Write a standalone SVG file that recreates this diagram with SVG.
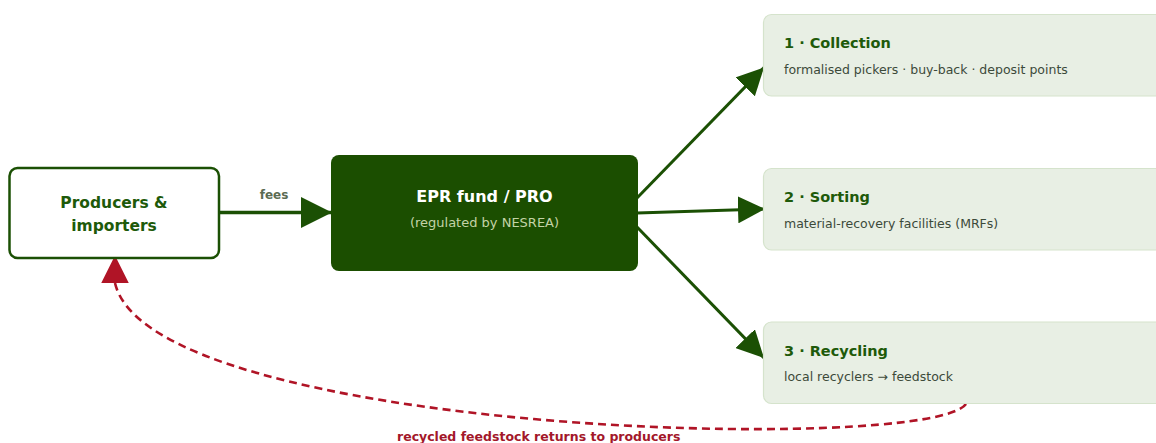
<svg xmlns="http://www.w3.org/2000/svg" width="1156" height="443" viewBox="0 0 1156 443">
  <style>
    .lbl { font-family: "DejaVu Sans", "Liberation Sans", sans-serif; }
    .prod { fill: #ffffff; stroke: #1b5004; stroke-width: 2.5; }
    .prodtxt { font-size: 15.5px; font-weight: bold; fill: #1e5a0a; }
    .fund { fill: #1b4e00; }
    .fundtitle { font-size: 16px; font-weight: bold; fill: #ffffff; }
    .fundsub { font-size: 13px; fill: #c3d3a6; }
    .stage { fill: #e8efe4; stroke: #d5e3cc; stroke-width: 1.2; }
    .stagetitle { font-size: 14.5px; font-weight: bold; fill: #1e5a0a; }
    .stagesub { font-size: 12.5px; fill: #3c4a3a; }
    .flow { fill: none; stroke: #1b5004; }
    .loop { fill: none; stroke: #b01426; stroke-width: 2.6; stroke-dasharray: 8 5; }
    .feeslbl { font-size: 12px; font-weight: bold; fill: #5b6b52; }
    .looplbl { font-size: 12.5px; font-weight: bold; fill: #a3172a; }
  </style>
  <defs>
    <marker id="arrowGreen" viewBox="0 0 10 10" refX="10" refY="5" markerWidth="9" markerHeight="9" markerUnits="strokeWidth" orient="auto">
      <path d="M0,0 L10,5 L0,10 z" fill="#1b5004"/>
    </marker>
    <!-- upward-pointing head, anchored at its base -->
    <marker id="arrowRedUp" viewBox="0 0 10 10" refX="0" refY="5" markerWidth="27.5" markerHeight="27.5" markerUnits="userSpaceOnUse" orient="270">
      <path d="M0,0 L10,5 L0,10 z" fill="#b01426"/>
    </marker>
  </defs>

  <!-- connectors -->
  <g id="connectors">
    <line class="flow" x1="219" y1="212.5" x2="332" y2="212.5" stroke-width="3.5" marker-end="url(#arrowGreen)"/>
    <text class="lbl feeslbl" x="274" y="199" text-anchor="middle">fees</text>
    <line class="flow" x1="637" y1="198" x2="764" y2="67.5" stroke-width="3" marker-end="url(#arrowGreen)"/>
    <line class="flow" x1="637" y1="213" x2="765" y2="209" stroke-width="3" marker-end="url(#arrowGreen)"/>
    <line class="flow" x1="637" y1="227" x2="764" y2="358" stroke-width="3" marker-end="url(#arrowGreen)"/>
    <path class="loop" d="M966,404 C930,455 150,435 115,283" marker-end="url(#arrowRedUp)"/>
    <text class="lbl looplbl" x="397" y="441">recycled feedstock returns to producers</text>
  </g>

  <!-- producers and importers -->
  <g id="producers">
    <rect class="prod" x="9.5" y="168" width="209.5" height="90" rx="8"/>
    <text class="lbl prodtxt" x="114" y="208" text-anchor="middle">Producers &amp;</text>
    <text class="lbl prodtxt" x="114" y="230.5" text-anchor="middle">importers</text>
  </g>

  <!-- EPR fund -->
  <g id="epr-fund">
    <rect class="fund" x="331" y="155" width="307" height="116" rx="8"/>
    <text class="lbl fundtitle" x="484.5" y="202" text-anchor="middle">EPR fund / PRO</text>
    <text class="lbl fundsub" x="484.5" y="227" text-anchor="middle">(regulated by NESREA)</text>
  </g>

  <!-- stages -->
  <g id="collection">
    <rect class="stage" x="763.5" y="14.5" width="410" height="81.5" rx="8"/>
    <text class="lbl stagetitle" x="784" y="48">1 · Collection</text>
    <text class="lbl stagesub" x="784" y="73.5">formalised pickers · buy-back · deposit points</text>
  </g>
  <g id="sorting">
    <rect class="stage" x="763.5" y="168.5" width="410" height="81.5" rx="8"/>
    <text class="lbl stagetitle" x="784" y="202">2 · Sorting</text>
    <text class="lbl stagesub" x="784" y="227.5">material-recovery facilities (MRFs)</text>
  </g>
  <g id="recycling">
    <rect class="stage" x="763.5" y="322" width="410" height="81.5" rx="8"/>
    <text class="lbl stagetitle" x="784" y="355.5">3 · Recycling</text>
    <text class="lbl stagesub" x="784" y="381">local recyclers → feedstock</text>
  </g>
</svg>
